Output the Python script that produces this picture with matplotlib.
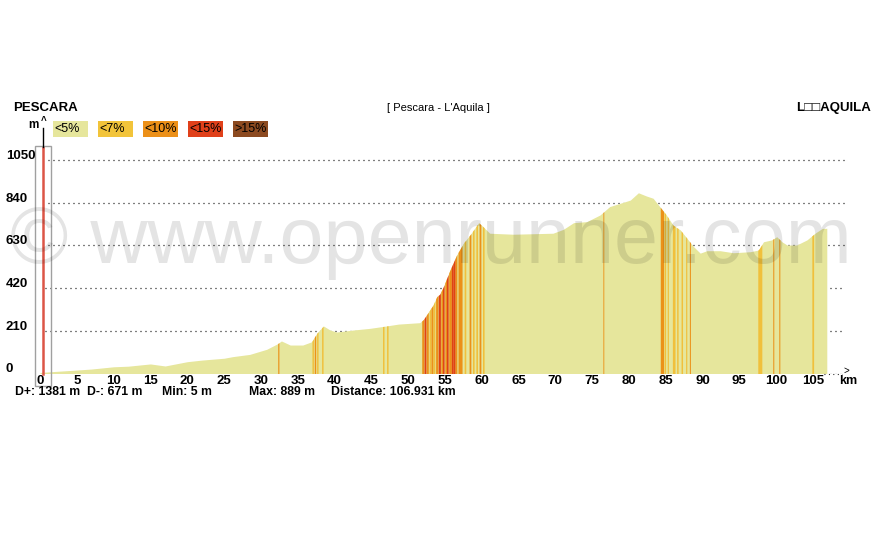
"""Elevation profile Pescara - L'Aquila (openrunner style)."""
import matplotlib
matplotlib.use("Agg")
import matplotlib.pyplot as plt
import matplotlib.transforms as mtransforms
from matplotlib.patches import Rectangle
import numpy as np

plt.rcParams["font.family"] = ["Liberation Sans", "DejaVu Sans"]

# ── data ────────────────────────────────────────────────────────────────────
dist_km = [0, 2, 5, 7, 10, 12, 15, 17, 20, 22, 25, 26.2, 28.5, 30.8, 32.2,
           32.8, 34, 35.7, 36.9, 37.6, 38.5, 39.4, 40.3, 42.6, 44.8, 47.1,
           48.7, 51.6, 52.1, 52.5, 53.4, 53.9, 54.3, 54.8, 55.7, 56.6, 57.5,
           58.4, 59.6, 60.2, 61.1, 64.3, 69.7, 71.1, 72.5, 74.3, 76.1, 77.4,
           78.8, 80.2, 81.3, 82.4, 83.3, 84.2, 85.1, 86.0, 87.0, 87.9, 88.8,
           89.7, 90.6, 92.4, 94.2, 96.5, 97.6, 98.3, 99.4, 100.1, 100.8,
           101.5, 102.8, 104.2, 105.3, 106.3, 106.9]
elev_m = [5, 10, 17, 22, 33, 36, 47, 37, 58, 66, 75, 83, 94, 119, 145,
          160, 140, 140, 156, 198, 234, 214, 204, 214, 222, 234,
          243, 250, 266, 288, 337, 378, 390, 427, 509, 583, 640,
          681, 742, 722, 690, 685, 690, 709, 742, 747, 780, 821,
          837, 853, 889, 873, 862, 821, 780, 730, 706, 665, 624,
          592, 604, 604, 594, 599, 607, 648, 657, 673, 648,
          632, 632, 657, 690, 714, 714]

# grade stripes: centre (km), width (km), class index into grade_colors
stripe_km = [32.38, 37.05, 37.36, 37.68, 38.36, 46.64, 47.19,
             52.0, 52.31, 52.62, 52.99, 53.26, 53.53, 53.9, 54.25, 54.58,
             54.80, 55.12, 55.34, 55.71, 56.02, 56.29, 56.52, 57.07, 57.74,
             58.42, 58.87, 59.33, 59.78, 60.23, 76.54,
             84.5, 84.9, 85.3, 86.1, 86.6, 87.2, 87.8, 88.3,
             97.8, 99.63, 100.45, 104.99]
stripe_w = [0.16, 0.2, 0.2, 0.2, 0.2, 0.2, 0.2,
            0.27, 0.27, 0.27, 0.24, 0.27, 0.24, 0.3, 0.3, 0.24,
            0.22, 0.24, 0.24, 0.36, 0.27, 0.24, 0.24, 0.55, 0.22,
            0.24, 0.22, 0.22, 0.24, 0.22, 0.12,
            0.45, 0.2, 0.16, 0.36, 0.2, 0.2, 0.16, 0.14,
            0.55, 0.14, 0.14, 0.24]
stripe_cat = [2, 1, 2, 1, 1, 1, 1,
              2, 3, 2, 1, 2, 1, 2, 3, 2,
              3, 2, 3, 2, 3, 3, 2, 2, 1,
              2, 1, 1, 2, 1, 2,
              2, 1, 1, 1, 1, 1, 1, 2,
              1, 2, 2, 1]

grade_labels = ["<5%", "<7%", "<10%", "<15%", ">15%"]
grade_colors = ["#e6e69c", "#f2c43a", "#ec9018", "#e0401a", "#8c4a20"]
stripe_colors = ["#e6e69c", "#f0c03c", "#eb9119", "#e04214", "#8c4a20"]

y_ticks = [0, 210, 420, 630, 840, 1050]
x_ticks = list(range(0, 106, 5))

stats = [("D+: 1381 m", 15), ("D-: 671 m", 87), ("Min: 5 m", 162),
         ("Max: 889 m", 249), ("Distance: 106.931 km", 331)]

# ── figure ──────────────────────────────────────────────────────────────────
W, H = 879, 540
fig = plt.figure(figsize=(W / 100, H / 100), dpi=100)
fig.patch.set_facecolor("white")

px_per_km = 7.36
px_per_m = 0.2033
x0, y0 = 40, 373.5          # pixel position of (0 km, 0 m)
ax_w, ax_h = 808, 226.5
ax = fig.add_axes([x0 / W, 1 - y0 / H, ax_w / W, ax_h / H])
ax.set_xlim(0, ax_w / px_per_km)
ax.set_ylim(0, ax_h / px_per_m)
ax.axis("off")


def fx(px):
    return px / W


def fy(py):
    return 1 - py / H


# dotted grid lines
for v in y_ticks:
    start = 1.1 if v > 420 else 0.7
    ax.plot([start, 109.4], [v, v], color="black", lw=0.9,
            dashes=(0.8, 3.2), zorder=1)

# profile
d = np.array(dist_km)
e = np.array(elev_m)
ax.fill_between(d, 0, e, color=grade_colors[0], lw=0, zorder=2)

for c, w, k in zip(stripe_km, stripe_w, stripe_cat):
    xs = np.linspace(c - w / 2, c + w / 2, 4)
    ax.fill_between(xs, 0, np.interp(xs, d, e), color=stripe_colors[k],
                    lw=0, zorder=3)

# start marker
ax.plot([0.37, 0.37], [0, ax_h / px_per_m], color="#dc5546", lw=1.8,
        zorder=4, clip_on=False)
ax.add_patch(Rectangle((-0.72, -12.5 / px_per_m), 2.26,
                       (386 - 146) / px_per_m,
                       fill=False, edgecolor="#a0a0a0", lw=1.0,
                       clip_on=False, zorder=5))

# watermark
fig.text(0.49, fy(242), "\u00a9 www.openrunner.com", fontsize=57,
         color="black", alpha=0.105, ha="center", va="center", zorder=10)

# y labels
for v in y_ticks:
    ypx = y0 - v * px_per_m - 4
    fig.text(fx(6), fy(ypx), str(v), fontsize=9.5, fontweight="bold",
             ha="left", va="center")

# x labels
trans = mtransforms.blended_transform_factory(ax.transData, fig.transFigure)
for v in x_ticks:
    ax.text(v, fy(381), str(v), fontsize=9.5, fontweight="bold",
            ha="center", va="center", transform=trans, clip_on=False)
fig.text(fx(848), fy(381), "km", fontsize=9, fontweight="bold",
         ha="center", va="center")
fig.add_artist(plt.Line2D([fx(824), fx(842)], [fy(374), fy(374)],
                          color="black", lw=0.8, dashes=(0.8, 3.2)))
fig.text(fx(846), fy(371), ">", fontsize=7, ha="center", va="center")

# y axis arrow
fig.add_artist(plt.Line2D([fx(43.3), fx(43.3)], [fy(128), fy(147)],
                          color="black", lw=1.0))
fig.text(fx(28), fy(125), "m", fontsize=8.5, fontweight="bold",
         ha="left", va="center")
fig.text(fx(43.3), fy(121), "^", fontsize=7, fontweight="bold",
         ha="center", va="center")

# legend
for i, (lab, col) in enumerate(zip(grade_labels, grade_colors)):
    left = 52.7 + 45 * i
    fig.add_artist(Rectangle((fx(left), fy(136.7)), 35.5 / W, 15.7 / H,
                             transform=fig.transFigure, color=col, lw=0))
    fig.text(fx(left + 1.5), fy(128.8), lab, fontsize=9, ha="left",
             va="center", color="black")

# header
fig.text(fx(13), fy(108), "PESCARA", fontsize=9.5, fontweight="bold",
         ha="left", va="center")
fig.text(fx(438), fy(108), "[ Pescara - L'Aquila ]", fontsize=8,
         ha="center", va="center")
fig.text(fx(871), fy(108), "L\u25a1\u25a1AQUILA", fontsize=9.5,
         fontweight="bold", ha="right", va="center")

# stats
for s, xp in stats:
    fig.text(fx(xp), fy(392), s, fontsize=8.8, fontweight="bold",
             ha="left", va="center")

fig.savefig("out.png", dpi=100, facecolor="white")
